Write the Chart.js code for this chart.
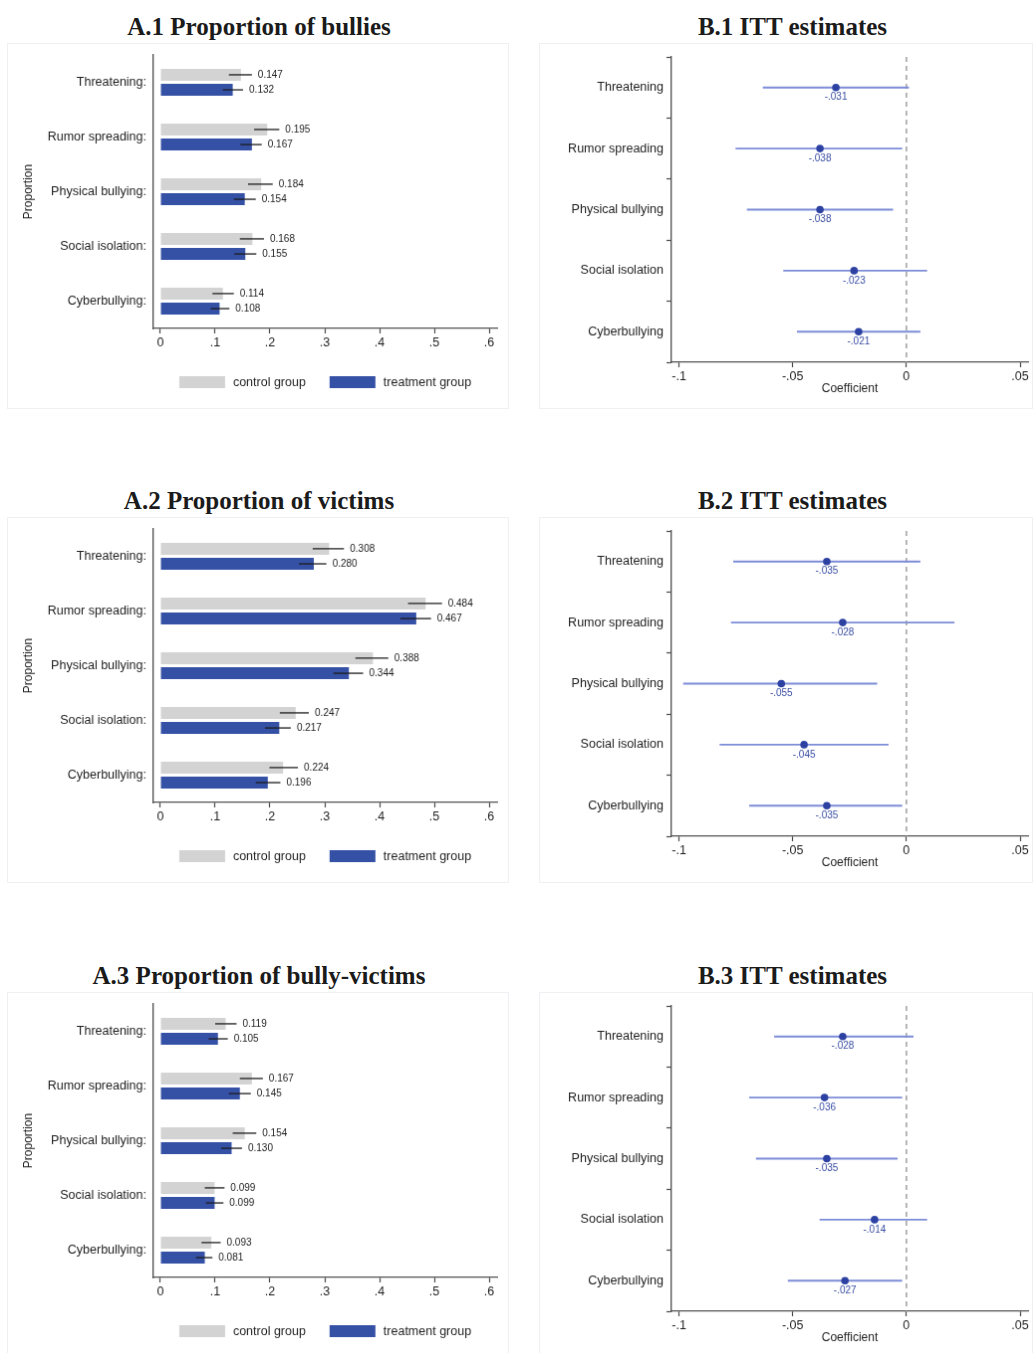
<!DOCTYPE html>
<html>
<head>
<meta charset="utf-8">
<script src="https://cdn.jsdelivr.net/npm/chart.js@4.4.0/dist/chart.umd.min.js"></script>
<style>
  body { margin: 0; background: #fff; width: 1034px; height: 1353px; overflow: hidden; position: relative; }
  .title { position: absolute; font: bold 25px "Liberation Serif", "Times New Roman", serif; color: #1b1b1b;
           text-align: center; white-space: nowrap; line-height: 30px; }
  canvas { position: absolute; border: 1px solid #eef0f3; }
</style>
</head>
<body>
<div class="title" style="left:8px;width:502px;top:12px">A.1 Proportion of bullies</div>
<div class="title" style="left:540px;width:505px;top:12px">B.1 ITT estimates</div>
<div class="title" style="left:8px;width:502px;top:486px">A.2 Proportion of victims</div>
<div class="title" style="left:540px;width:505px;top:486px">B.2 ITT estimates</div>
<div class="title" style="left:8px;width:502px;top:961px">A.3 Proportion of bully-victims</div>
<div class="title" style="left:540px;width:505px;top:961px">B.3 ITT estimates</div>

<canvas id="a1" width="502" height="366" style="left:7px;top:43px"></canvas>
<canvas id="b1" width="494" height="366" style="left:539px;top:43px"></canvas>
<canvas id="a2" width="502" height="366" style="left:7px;top:517px"></canvas>
<canvas id="b2" width="494" height="366" style="left:539px;top:517px"></canvas>
<canvas id="a3" width="502" height="366" style="left:7px;top:992px"></canvas>
<canvas id="b3" width="494" height="366" style="left:539px;top:992px"></canvas>

<script>
// categories and ticks
const items = ['Threatening', 'Rumor spreading', 'Physical bullying', 'Social isolation', 'Cyberbullying'];
const propTicks = [0, 0.1, 0.2, 0.3, 0.4, 0.5, 0.6];
const coefTicks = [-0.1, -0.05, 0, 0.05];

// A.1 proportion of bullies
const bulliesCtrl = [0.147, 0.195, 0.184, 0.168, 0.114];
const bulliesCtrlLo = [0.125, 0.171, 0.160, 0.145, 0.095];
const bulliesCtrlHi = [0.167, 0.217, 0.205, 0.189, 0.134];
const bulliesTreat = [0.132, 0.167, 0.154, 0.155, 0.108];
const bulliesTreatLo = [0.114, 0.146, 0.134, 0.135, 0.092];
const bulliesTreatHi = [0.151, 0.185, 0.174, 0.175, 0.126];

// A.2 proportion of victims
const victimsCtrl = [0.308, 0.484, 0.388, 0.247, 0.224];
const victimsCtrlLo = [0.278, 0.452, 0.356, 0.218, 0.199];
const victimsCtrlHi = [0.335, 0.514, 0.416, 0.271, 0.251];
const victimsTreat = [0.280, 0.467, 0.344, 0.217, 0.196];
const victimsTreatLo = [0.253, 0.438, 0.316, 0.191, 0.174];
const victimsTreatHi = [0.303, 0.494, 0.370, 0.238, 0.219];

// A.3 proportion of bully-victims
const bvCtrl = [0.119, 0.167, 0.154, 0.099, 0.093];
const bvCtrlLo = [0.100, 0.145, 0.132, 0.081, 0.075];
const bvCtrlHi = [0.139, 0.187, 0.175, 0.117, 0.110];
const bvTreat = [0.105, 0.145, 0.130, 0.099, 0.081];
const bvTreatLo = [0.088, 0.125, 0.111, 0.083, 0.065];
const bvTreatHi = [0.123, 0.165, 0.149, 0.115, 0.095];

// B.1 - B.3 ITT estimates with 95% CI
const ittBullies = [-0.031, -0.038, -0.038, -0.023, -0.021];
const ittBulliesLo = [-0.063, -0.075, -0.070, -0.054, -0.048];
const ittBulliesHi = [0.001, -0.002, -0.006, 0.009, 0.006];

const ittVictims = [-0.035, -0.028, -0.055, -0.045, -0.035];
const ittVictimsLo = [-0.076, -0.077, -0.098, -0.082, -0.069];
const ittVictimsHi = [0.006, 0.021, -0.013, -0.008, -0.002];

const ittBv = [-0.028, -0.036, -0.035, -0.014, -0.027];
const ittBvLo = [-0.058, -0.069, -0.066, -0.038, -0.052];
const ittBvHi = [0.003, -0.002, -0.004, 0.009, -0.002];

const SANS = '"Liberation Sans", Arial, Helvetica, sans-serif';
const AXIS = '#4a4a4a';
Chart.defaults.font.family = SANS;
Chart.defaults.color = '#1f1f1f';

// horizontal error lines + value labels on the proportion bars
const errorBars = {
  id: 'errorBars',
  afterDatasetsDraw(chart) {
    const ctx = chart.ctx, x = chart.scales.x;
    chart.data.datasets.forEach((ds, di) => {
      chart.getDatasetMeta(di).data.forEach((bar, i) => {
        const x0 = x.getPixelForValue(ds.ciLo[i]);
        const x1 = x.getPixelForValue(ds.ciHi[i]);
        ctx.save();
        ctx.strokeStyle = '#1c1c1c';
        ctx.lineWidth = 1.3;
        ctx.beginPath();
        ctx.moveTo(x0, bar.y);
        ctx.lineTo(x1, bar.y);
        ctx.stroke();
        ctx.fillStyle = '#1c1c1c';
        ctx.font = '10px ' + SANS;
        ctx.textBaseline = 'middle';
        ctx.fillText(ds.data[i].toFixed(3), x1 + 6, bar.y + 0.5);
        ctx.restore();
      });
    });
  }
};

// legend centred under the plot region
const boxLegend = {
  id: 'boxLegend',
  afterDraw(chart) {
    const ctx = chart.ctx, area = chart.chartArea;
    const dss = chart.data.datasets;
    ctx.save();
    ctx.font = '12.5px ' + SANS;
    const widths = dss.map(d => 46 + 8 + ctx.measureText(d.label).width);
    const gap = 24;
    const total = widths.reduce((a, b) => a + b, 0) + gap * (dss.length - 1);
    let xx = (area.left + area.right) / 2 - total / 2;
    const yy = area.bottom + 54;
    dss.forEach((d, i) => {
      ctx.fillStyle = d.backgroundColor;
      ctx.fillRect(xx, yy - 6, 46, 12);
      ctx.fillStyle = '#1f1f1f';
      ctx.textBaseline = 'middle';
      ctx.fillText(d.label, xx + 54, yy + 1);
      xx += widths[i] + gap;
    });
    ctx.restore();
  }
};

function fmtProp(v) {
  return v === 0 ? '0' : v.toFixed(1).replace(/^0\./, '.');
}
function fmtCoef(v) {
  if (Math.abs(v) < 1e-9) return '0';
  const s = Math.abs(v) >= 0.1 || Math.abs(v) === 0.05 ? String(+v.toFixed(2)) : v.toFixed(3);
  return s.replace(/^(-?)0\./, '$1.');
}

function makePropChart(id, ctrl, ctrlLo, ctrlHi, treat, treatLo, treatHi) {
  return new Chart(document.getElementById(id), {
    type: 'bar',
    data: {
      labels: items.map(s => s + ':'),
      datasets: [
        { label: 'control group', data: ctrl, ciLo: ctrlLo, ciHi: ctrlHi, backgroundColor: '#d3d3d3' },
        { label: 'treatment group', data: treat, ciLo: treatLo, ciHi: treatHi, backgroundColor: '#3551a6' }
      ]
    },
    options: {
      indexAxis: 'y',
      responsive: false,
      animation: false,
      layout: { padding: { left: 0, right: 11, top: 11, bottom: 58 } },
      datasets: { bar: { categoryPercentage: 0.55, barPercentage: 0.8 } },
      plugins: { legend: { display: false }, tooltip: { enabled: false } },
      scales: {
        x: {
          type: 'linear', min: -0.0127, max: 0.6145,
          afterBuildTicks: s => { s.ticks = propTicks.map(v => ({ value: v })); },
          afterFit: s => { s.height = 22; },
          ticks: { callback: v => fmtProp(v), font: { size: 12.5 }, padding: 2, maxRotation: 0 },
          grid: { display: true, drawOnChartArea: false, drawTicks: true, tickLength: 5, color: AXIS, tickWidth: 1.2 },
          border: { display: true, color: AXIS, width: 1.3 }
        },
        y: {
          afterFit: s => { s.width = 146; },
          ticks: { font: { size: 12.5 }, padding: 0 },
          grid: { display: false, drawTicks: true, tickLength: 7 },
          border: { display: true, color: AXIS, width: 1.3 },
          title: { display: true, text: 'Proportion', font: { size: 12 }, padding: { top: 13, bottom: 0 } }
        }
      }
    },
    plugins: [errorBars, boxLegend]
  });
}

// dashed zero line + coefficient labels
const zeroLine = {
  id: 'zeroLine',
  beforeDatasetsDraw(chart) {
    const ctx = chart.ctx, area = chart.chartArea;
    const x0 = chart.scales.x.getPixelForValue(0);
    ctx.save();
    ctx.strokeStyle = '#8f8f8f';
    ctx.lineWidth = 1.3;
    ctx.setLineDash([5, 4]);
    ctx.beginPath();
    ctx.moveTo(x0, area.top);
    ctx.lineTo(x0, area.bottom);
    ctx.stroke();
    ctx.restore();
  },
  afterDatasetsDraw(chart) {
    const ctx = chart.ctx;
    const ds = chart.data.datasets[1];
    ctx.save();
    ctx.fillStyle = '#3a4ea3';
    ctx.font = '10px ' + SANS;
    ctx.textAlign = 'center';
    ctx.textBaseline = 'middle';
    chart.getDatasetMeta(1).data.forEach((pt, i) => {
      ctx.fillText(fmtCoef(ds.data[i]), pt.x, pt.y + 10);
    });
    ctx.restore();
  }
};

function makeIttChart(id, coef, lo, hi) {
  return new Chart(document.getElementById(id), {
    type: 'bar',
    data: {
      labels: items,
      datasets: [
        { type: 'bar', label: '95% CI', data: lo.map((l, i) => [l, hi[i]]),
          backgroundColor: '#7d8cd8', barThickness: 1.2, order: 2 },
        { type: 'line', label: 'ITT', data: coef, showLine: false, order: 1,
          pointRadius: 3.8, pointBackgroundColor: '#2c41a2', pointBorderWidth: 0 }
      ]
    },
    options: {
      indexAxis: 'y',
      responsive: false,
      animation: false,
      layout: { padding: { left: 0, right: 2, top: 13, bottom: 11 } },
      plugins: { legend: { display: false }, tooltip: { enabled: false } },
      scales: {
        x: {
          type: 'linear', min: -0.1033, max: 0.0535,
          afterBuildTicks: s => { s.ticks = coefTicks.map(v => ({ value: v })); },
          afterFit: s => { s.height = 35; },
          ticks: { callback: v => fmtCoef(v), font: { size: 12.5 }, padding: 2, maxRotation: 0 },
          grid: { display: true, drawOnChartArea: false, drawTicks: true, tickLength: 5, color: AXIS, tickWidth: 1.2 },
          border: { display: true, color: AXIS, width: 1.3 },
          title: { display: true, text: 'Coefficient', font: { size: 12 }, padding: { top: 0, bottom: 1 } }
        },
        y: {
          afterFit: s => { s.width = 132; },
          ticks: { font: { size: 12.5 }, padding: 3 },
          grid: { display: true, drawOnChartArea: false, drawTicks: true, tickLength: 5, color: AXIS, tickWidth: 1.2 },
          border: { display: true, color: AXIS, width: 1.3 }
        }
      }
    },
    plugins: [zeroLine]
  });
}

makePropChart('a1', bulliesCtrl, bulliesCtrlLo, bulliesCtrlHi, bulliesTreat, bulliesTreatLo, bulliesTreatHi);
makePropChart('a2', victimsCtrl, victimsCtrlLo, victimsCtrlHi, victimsTreat, victimsTreatLo, victimsTreatHi);
makePropChart('a3', bvCtrl, bvCtrlLo, bvCtrlHi, bvTreat, bvTreatLo, bvTreatHi);
makeIttChart('b1', ittBullies, ittBulliesLo, ittBulliesHi);
makeIttChart('b2', ittVictims, ittVictimsLo, ittVictimsHi);
makeIttChart('b3', ittBv, ittBvLo, ittBvHi);
</script>
</body>
</html>
